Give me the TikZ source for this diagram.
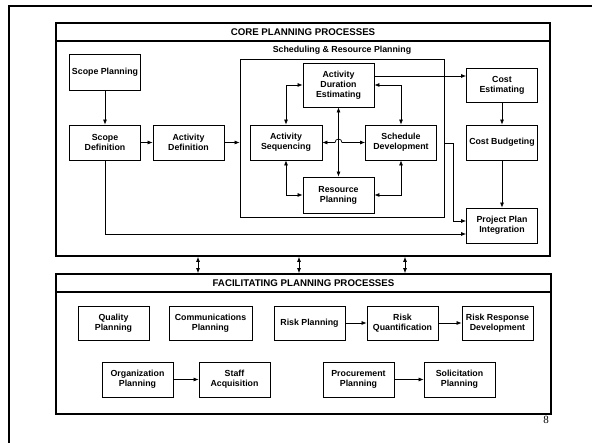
\documentclass[tikz,border=0pt]{standalone}
\usepackage{fontspec}
\setmainfont{Liberation Sans}
\newfontfamily\seriffont{Liberation Serif}
\usetikzlibrary{arrows.meta}
\tikzset{
  proc/.style={draw, line width=0.8pt, minimum width=71pt, minimum height=35pt, inner sep=1pt,
     align=center, font=\fontsize{8.8}{10}\selectfont\bfseries},
  group/.style={draw, line width=1.8pt, inner sep=0pt},
  schedbox/.style={draw, line width=0.8pt, inner sep=0pt, minimum width=204pt, minimum height=158pt},
  ttl/.style={font=\fontsize{9.7}{11}\selectfont\bfseries},
  sub/.style={font=\fontsize{8.8}{10}\selectfont\bfseries},
  arr/.style={line width=0.7pt, -{Latex[length=5pt,width=4pt]}},
  dbl/.style={line width=0.7pt, {Latex[length=5pt,width=4pt]}-{Latex[length=5pt,width=4pt]}},
}
\begin{document}
\begin{tikzpicture}[x=1pt,y=-1pt]
\useasboundingbox (0,0) rectangle (592,443);
% slide frame
\draw[line width=2.2pt] (592,6) -- (9,6) -- (9,443);
% core group
\node[group, minimum width=494pt, minimum height=233pt] (core) at (303,139.5) {};
\draw[line width=1.8pt] (56,41) -- (550,41);
\node[ttl] (coret) at (303,32) {CORE PLANNING PROCESSES};
\node[schedbox] (sched) at (342,138) {};
\node[sub] (schedt) at (342,50) {Scheduling \& Resource Planning};
% core processes
\node[proc, minimum height=36pt] (sp) at (105,72) {Scope Planning};
\node[proc] (sdef) at (105,142.5) {Scope\\Definition};
\node[proc] (ad) at (188.5,142.5) {Activity\\Definition};
\node[proc, minimum width=72pt] (as) at (286,142.5) {Activity\\Sequencing};
\node[proc, minimum height=44pt] (ade) at (338.5,85) {Activity\\Duration\\Estimating};
\node[proc] (sd) at (401,142.5) {Schedule\\Development};
\node[proc, minimum height=36pt] (rp) at (338.5,195) {Resource\\Planning};
\node[proc, minimum height=34pt] (ce) at (502,85) {Cost\\Estimating};
\node[proc] (cb) at (502,142.5) {Cost Budgeting};
\node[proc] (ppi) at (502,225.5) {Project Plan\\Integration};
% core connectors
\draw[arr] (sp) -- (sdef);
\draw[arr] (sdef) -- (ad);
\draw[arr] (ad.east) -- (ad.east -| sched.west);
\draw[arr] ([yshift=9pt]ade.east) -- ([yshift=9pt]ade.east -| ce.west);
\draw[arr] (ce) -- (cb);
\draw[arr] (cb) -- (ppi);
\draw[arr] ([yshift=-5pt]sched.east) -- ++(9,0) |- ([yshift=4.5pt]ppi.west);
\draw[arr] (sdef.south) |- ([yshift=-8.5pt]ppi.west);
\draw[dbl] (as.north) |- (ade.west);
\draw[dbl] (as.south) |- (rp.west);
\draw[dbl] (ade.east) -| (sd.north);
\draw[dbl] (rp.east) -| (sd.south);
\draw[dbl] (ade.south) -- (rp.north);
\draw[dbl] (as.east) -- (335,142.5) arc[start angle=180, end angle=360, radius=3.5] -- (sd.west);
% facilitating group
\node[group, minimum width=495pt, minimum height=140pt] (fac) at (303.5,344) {};
\draw[line width=1.8pt] (56,292) -- (551,292);
\node[ttl] (fact) at (303.5,283) {FACILITATING PLANNING PROCESSES};
\draw[dbl] ([xshift=-105pt]core.south) -- ([xshift=-105pt]core.south |- fac.north);
\draw[dbl] ([xshift=-4pt]core.south) -- ([xshift=-4pt]core.south |- fac.north);
\draw[dbl] ([xshift=102pt]core.south) -- ([xshift=102pt]core.south |- fac.north);
% facilitating processes
\node[proc, minimum height=34pt] (qp) at (113.5,323) {Quality\\Planning};
\node[proc, minimum width=83pt, minimum height=34pt] (cp) at (210.5,323) {Communications\\Planning};
\node[proc, minimum height=34pt] (rkp) at (309.5,323) {Risk Planning};
\node[proc, minimum height=34pt] (rq) at (402.5,323) {Risk\\Quantification};
\node[proc, minimum height=34pt] (rrd) at (497.5,323) {Risk Response\\Development};
\node[proc] (op) at (137.5,379.5) {Organization\\Planning};
\node[proc] (sa) at (234.5,379.5) {Staff\\Acquisition};
\node[proc] (pp) at (358.5,379.5) {Procurement\\Planning};
\node[proc] (sol) at (459.5,379.5) {Solicitation\\Planning};
\draw[arr] (rkp) -- (rq);
\draw[arr] (rq) -- (rrd);
\draw[arr] (op) -- (sa);
\draw[arr] (pp) -- (sol);
% page number
\node[font=\seriffont\fontsize{11}{12}\selectfont] (pg) at (546,419.5) {8};
\end{tikzpicture}
\end{document}
